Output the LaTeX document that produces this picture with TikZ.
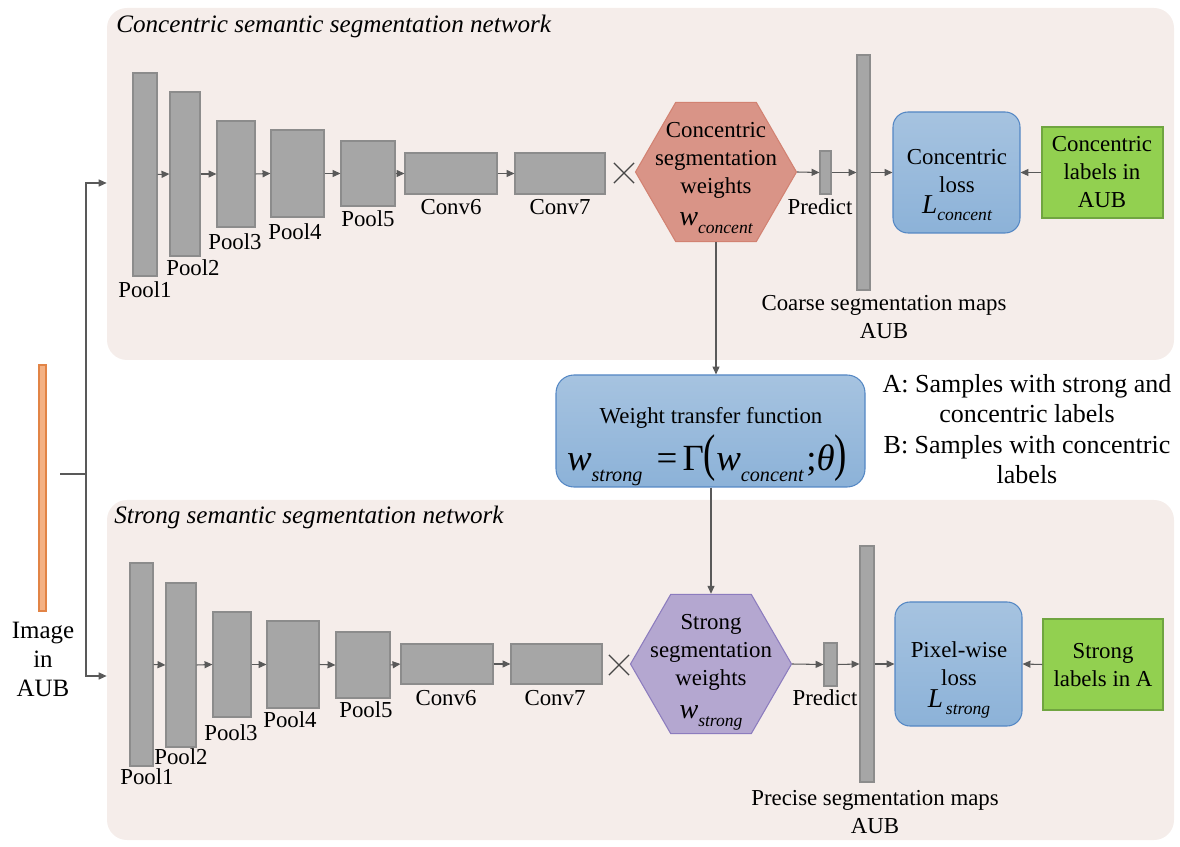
\documentclass[tikz,border=0pt]{standalone}
\usepackage{fontspec}
\setmainfont{LiberationSerif}[Extension=.ttf, UprightFont=*-Regular, ItalicFont=*-Italic, BoldFont=*-Bold]
\usepackage{graphicx}
\usetikzlibrary{arrows.meta,fit,shapes.geometric,shapes.misc}

\definecolor{panelbg}{RGB}{245,237,234}
\definecolor{layerfill}{RGB}{166,166,166}
\definecolor{layerdraw}{RGB}{140,140,140}
\definecolor{linkgray}{RGB}{89,89,89}
\definecolor{crossgray}{RGB}{70,70,70}
\definecolor{salmon}{RGB}{217,148,135}
\definecolor{salmondraw}{RGB}{210,130,114}
\definecolor{lavender}{RGB}{180,167,208}
\definecolor{lavenderdraw}{RGB}{140,124,190}
\definecolor{lossblue}{RGB}{166,195,224}
\definecolor{lossbluedark}{RGB}{140,178,216}
\definecolor{lossdraw}{RGB}{84,135,196}
\definecolor{labelgreen}{RGB}{146,208,80}
\definecolor{labeldraw}{RGB}{112,165,64}
\definecolor{imgorange}{RGB}{244,177,131}
\definecolor{imgdraw}{RGB}{226,132,70}

% italic variable with a lowered italic index
\newcommand{\subvar}[4]{{\fontsize{#3}{#3}\selectfont\itshape #1}\raisebox{-#4}{\fontsize{10}{10}\selectfont\itshape #2}}

\tikzset{
  panel/.style={fill=panelbg, rounded corners=0.4cm, inner sep=0pt},
  title/.style={font=\rmfamily\fontsize{14.3}{17}\selectfont\itshape, inner sep=0pt},
  layer/.style={fill=layerfill, draw=layerdraw, line width=0.6pt, inner sep=0pt},
  lbl/.style={font=\rmfamily\fontsize{13}{15.9}\selectfont, inner sep=0pt, align=center},
  link/.style={draw=linkgray, line width=0.6pt, -{Triangle[length=4.5pt,width=4pt]}},
  mult/.style={cross out, draw=crossgray, line width=0.7pt, minimum size=0.38cm, inner sep=0pt},
  hexa/.style={regular polygon, regular polygon sides=6, minimum size=3.22cm, inner sep=0pt, line width=0.6pt},
  loss/.style={top color=lossblue, bottom color=lossbluedark, draw=lossdraw, line width=0.6pt, rounded corners=0.3cm, inner sep=0pt},
  target/.style={fill=labelgreen, draw=labeldraw, line width=0.6pt, inner sep=0pt}
}

\begin{document}
\begin{tikzpicture}[x=0.02cm, y=-0.02cm]
    \useasboundingbox (0,0) rectangle (1180,847);

    % the two network panels
    \node[panel, fit={(107,8)(1174,360)}] (cpanel) {};
    \node[panel, fit={(107,500)(1174,840)}] (spanel) {};
    \node[title, anchor=west] (ctitle) at (116,26) {Concentric semantic segmentation network};
    \node[title, anchor=west] (stitle) at (114,517) {Strong semantic segmentation network};

    % input image
    \node[fill=imgorange, draw=imgdraw, line width=0.6pt, inner sep=0pt, fit={(39,365)(46,611)}] (img) {};
    \node[lbl, font=\rmfamily\fontsize{14.2}{16.5}\selectfont] (imgl) at (43,659) {Image\\in\\AUB};
    \coordinate (tap) at (60,474);
    \coordinate (split) at (86,474);
    \draw[link, -] (tap) -- (split);
    \draw[link] (split) |- (cpanel.west |- 0,183);
    \draw[link] (split) |- (spanel.west |- 0,676);

    % concentric network
    \node[layer, fit={(133,73)(157,276)}] (cp1) {};
    \node[layer, fit={(170,92)(200,256)}] (cp2) {};
    \node[layer, fit={(217,121)(255,227)}] (cp3) {};
    \node[layer, fit={(271,130)(324,217)}] (cp4) {};
    \node[layer, fit={(341,141)(395,206)}] (cp5) {};
    \node[layer, fit={(405,153)(497,194)}] (cc6) {};
    \node[layer, fit={(515,153)(605,194)}] (cc7) {};
    \node[lbl] (cp1l) at (145,290) {Pool1};
    \node[lbl] (cp2l) at (193,268) {Pool2};
    \node[lbl] (cp3l) at (235,242) {Pool3};
    \node[lbl] (cp4l) at (295,232) {Pool4};
    \node[lbl] (cp5l) at (368,219) {Pool5};
    \node[lbl] (cc6l) at (451,207) {Conv6};
    \node[lbl] (cc7l) at (560,207) {Conv7};
    \draw[link] (cp1.east) -- (cp2.west);
    \draw[link] (cp2.east) -- (cp3.west);
    \draw[link] (cp3.east) -- (cp4.west);
    \draw[link] (cp4.east) -- (cp5.west);
    \draw[link] (cp5.east) -- (cc6.west);
    \draw[link] (cc6.east) -- (cc7.west);
    \node[mult] (cmul) at (624,173) {};

    \node[hexa, fill=salmon, draw=salmondraw] (chex) at (716,172) {};
    \node[lbl] (chext) at (716,178) {Concentric\\segmentation\\weights\\[2pt]\subvar{w}{concent}{16}{4.5pt}};
    \node[layer, fit={(820,151)(831,194)}] (cpred) {};
    \node[lbl] (cpredl) at (820,207) {Predict};
    \node[layer, fit={(857,55)(870,290)}] (cmap) {};
    \node[lbl, font=\rmfamily\fontsize{13}{15.5}\selectfont] (cmapl) at (884,317) {Coarse segmentation maps\\AUB};
    \node[loss, fit={(893,112)(1020,233)}] (closs) {};
    \node[lbl] (closst) at (957,185) {Concentric\\loss\\[-4pt]\subvar{L}{concent}{15.5}{4pt}};
    \node[target, fit={(1042,127)(1163,218)}] (clab) {};
    \node[lbl] (clabt) at (1102,172) {Concentric\\labels in\\AUB};
    \draw[link] (chex.east) -- (cpred.west);
    \draw[link] (cpred.east) -- (cmap.west);
    \draw[link] (cmap.east) -- (closs.west);
    \draw[link] (clab.west) -- (closs.east);

    % weight transfer
    \node[loss, rounded corners=0.36cm, fit={(556,375)(865,487)}] (wtf) {};
    \node[lbl] (wtft) at (711,418) {Weight transfer function};
    \node[inner sep=0pt, font=\rmfamily] (wtfeq) at (707,460) {\fontsize{21}{24}\selectfont\textit{w}\raisebox{-6.5pt}{\fontsize{11.5}{12}\selectfont\itshape strong}\hspace{8pt}=\hspace{3pt}Γ\scalebox{1}[1.4]{(}\textit{w}\raisebox{-6.5pt}{\fontsize{11.5}{12}\selectfont\itshape concent}\hspace{1.5pt};\textit{θ}\scalebox{1}[1.4]{)}};
    \draw[link] (chex.south) -- (chex.south |- wtf.north);
    \node[lbl, font=\rmfamily\fontsize{14.8}{17.4}\selectfont] (legend) at (1027,429) {A: Samples with strong and\\concentric labels\\B: Samples with concentric\\labels};

    % strong network
    \node[layer, fit={(130,563)(153,766)}] (sp1) {};
    \node[layer, fit={(166,583)(196,747)}] (sp2) {};
    \node[layer, fit={(213,612)(251,717)}] (sp3) {};
    \node[layer, fit={(267,621)(319,708)}] (sp4) {};
    \node[layer, fit={(336,632)(390,698)}] (sp5) {};
    \node[layer, fit={(401,644)(493,684)}] (sc6) {};
    \node[layer, fit={(511,644)(602,684)}] (sc7) {};
    \node[lbl] (sp1l) at (147,777) {Pool1};
    \node[lbl] (sp2l) at (181,757) {Pool2};
    \node[lbl] (sp3l) at (231,733) {Pool3};
    \node[lbl] (sp4l) at (290,720) {Pool4};
    \node[lbl] (sp5l) at (366,710) {Pool5};
    \node[lbl] (sc6l) at (446,698) {Conv6};
    \node[lbl] (sc7l) at (555,698) {Conv7};
    \draw[link] (sp1.east) -- (sp2.west);
    \draw[link] (sp2.east) -- (sp3.west);
    \draw[link] (sp3.east) -- (sp4.west);
    \draw[link] (sp4.east) -- (sp5.west);
    \draw[link] (sp5.east) -- (sc6.west);
    \draw[link] (sc6.east) -- (sc7.west);
    \node[mult] (smul) at (619,665) {};

    \node[hexa, fill=lavender, draw=lavenderdraw] (shex) at (711,664) {};
    \node[lbl] (shext) at (711,672) {Strong\\segmentation\\weights\\[3pt]\subvar{w}{strong}{16}{4.5pt}};
    \node[layer, fit={(824,643)(837,686)}] (spred) {};
    \node[lbl] (spredl) at (825,698) {Predict};
    \node[layer, fit={(860,546)(874,782)}] (smap) {};
    \node[lbl, font=\rmfamily\fontsize{13}{15.5}\selectfont] (smapl) at (875,812) {Precise segmentation maps\\AUB};
    \node[loss, fit={(895,602)(1022,726)}] (sloss) {};
    \node[lbl] (slosst) at (959,680) {Pixel-wise\\loss\\[-3pt]\subvar{L}{\,strong}{15.5}{4pt}};
    \node[target, fit={(1043,619)(1163,710)}] (slab) {};
    \node[lbl] (slabt) at (1103,665) {Strong\\labels in A};
    \draw[link] (shex.east) -- (spred.west);
    \draw[link] (spred.east) -- (smap.west);
    \draw[link] (smap.east) -- (sloss.west);
    \draw[link] (slab.west) -- (sloss.east);
    \draw[link] (wtf.south -| shex.north) -- (shex.north);
\end{tikzpicture}
\end{document}
